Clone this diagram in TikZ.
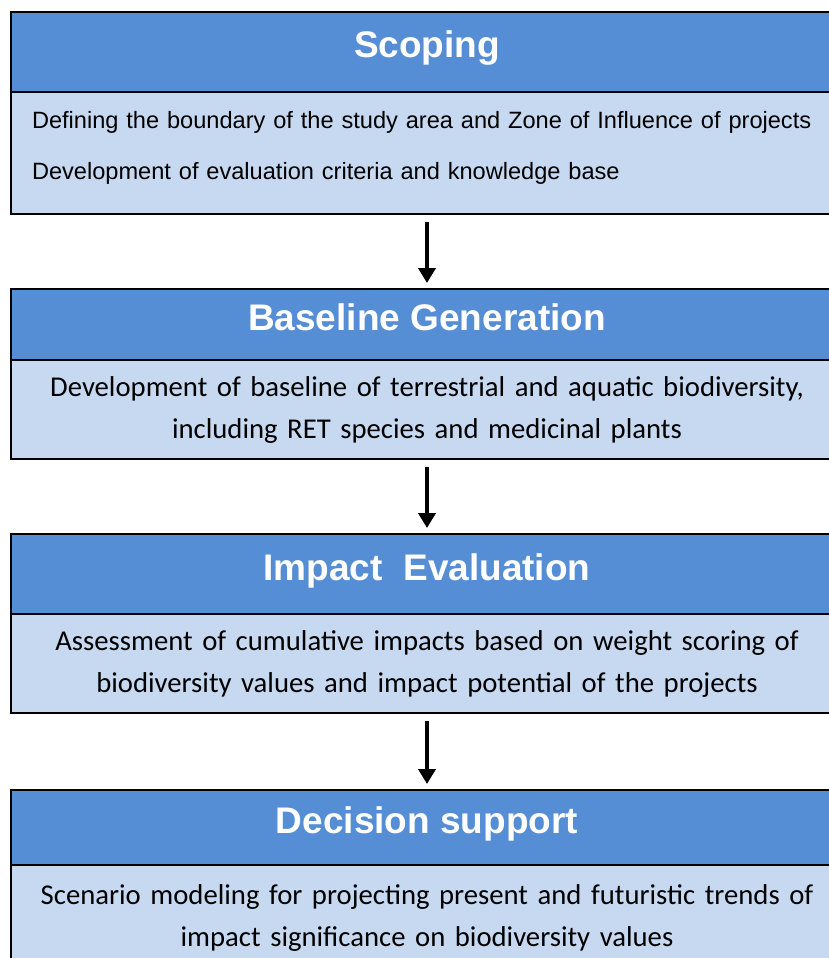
\documentclass[tikz,border=0pt]{standalone}
\usepackage{fontspec}
\setmainfont{Carlito}
\newfontfamily\arialfont{Liberation Sans}
\usepackage{tikz}
\usetikzlibrary{positioning, arrows.meta}

\begin{document}
\begin{tikzpicture}[x=1pt,y=-1pt,
  headbox/.style={draw=black, line width=1.5, fill={rgb,255:red,85;green,142;blue,213}, text=white,
    minimum width=832, anchor=north west, outer sep=0, inner sep=0,
    text height=27, text depth=15, font=\arialfont\bfseries\fontsize{37}{44}\selectfont},
  bodybox/.style={draw=black, line width=1.5, fill={rgb,255:red,198;green,217;blue,241}, text=black,
    minimum width=832, anchor=north west, outer sep=0, inner xsep=21, inner ysep=0,
    text width=790, align=center, font=\fontsize{28.7}{42}\selectfont},
  flowarrow/.style={line width=4, -{Triangle[width=17,length=15]}, shorten <=8, shorten >=6}]
%set diagram window 829 x 958
\clip (0,0) rectangle (829,958);

%Shape: Scoping
\node [headbox, minimum height=80] (scopehead) at (11,12) {Scoping};
\node [bodybox, minimum height=122, text width=830, align=left, text depth=67,
  font=\arialfont\fontsize{23.6}{51}\selectfont] (scopebody) at (11,92)
  {Defining the boundary of the study area and Zone of Influence of projects\\
   Development of evaluation criteria and knowledge base};

%Shape: Baseline Generation
\node [headbox, minimum height=71] (basehead) at (11,289) {Baseline Generation};
\node [bodybox, minimum height=99] (basebody) at (11,360)
  {Development of baseline of terrestrial and aquatic biodiversity,\\
   including RET species and medicinal plants};

%Shape: Impact Evaluation
\node [headbox, minimum height=80] (impacthead) at (11,534) {Impact\ \ Evaluation};
\node [bodybox, minimum height=99] (impactbody) at (11,614)
  {Assessment of cumulative impacts based on weight scoring of\\
   biodiversity values and impact potential of the projects};

%Shape: Decision support
\node [headbox, minimum height=75] (decisionhead) at (11,790) {Decision support};
\node [bodybox, minimum height=106] (decisionbody) at (11,865)
  {Scenario modeling for projecting present and futuristic trends of\\
   impact significance on biodiversity values};

%Straight Lines
\draw [flowarrow] (scopebody.south -| scopehead.south) -- (basehead);
\draw [flowarrow] (basebody) -- (impacthead);
\draw [flowarrow] (impactbody) -- (decisionhead);

\end{tikzpicture}
\end{document}
